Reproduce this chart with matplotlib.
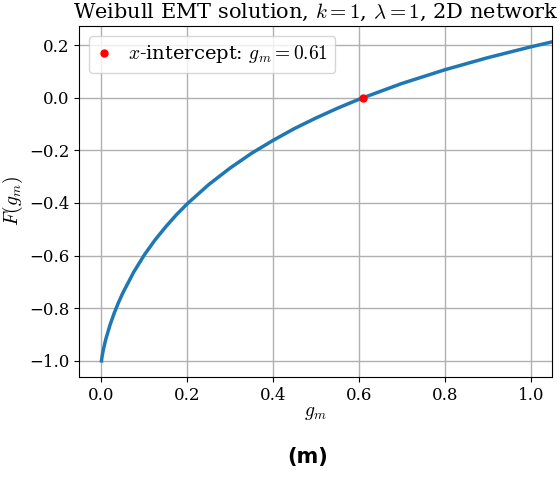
import numpy as np
import matplotlib
matplotlib.use("Agg")
import matplotlib.pyplot as plt

plt.rcParams['font.family'] = 'DejaVu Serif'
plt.rcParams['mathtext.fontset'] = 'cm'

# values
g_m = [0.0, 0.0005, 0.001, 0.0025, 0.005, 0.01, 0.02, 0.03, 0.04, 0.05, 0.075,
       0.1, 0.125, 0.15, 0.175, 0.2, 0.25, 0.3, 0.35, 0.4, 0.45, 0.5, 0.55,
       0.6, 0.61, 0.7, 0.8, 0.9, 1.0, 1.05]
F_g = [-1.0, -0.993, -0.987, -0.973, -0.9525, -0.918, -0.863, -0.817, -0.777, -0.741, -0.663,
       -0.597, -0.540, -0.490, -0.444, -0.403, -0.330, -0.267, -0.211, -0.162, -0.117, -0.077, -0.040,
       -0.006, 0.0, 0.054, 0.106, 0.152, 0.193, 0.212]
root_g = 0.61

fig = plt.figure(figsize=(5.6, 4.8), dpi=100)
ax = fig.add_axes([0.141, 0.215, 0.845, 0.731])

ax.plot(g_m, F_g, color='#1f77b4', lw=2.5)
ax.plot([root_g], [0.0], 'o', color='red', markersize=5,
        label=r'$x$-intercept: $g_m = %.2f$' % root_g)

ax.set_xlim(-0.0525, 1.05)
ax.set_xlabel(r'$g_m$', fontsize=14, labelpad=0)
ax.set_ylabel(r'$F(g_m)$', fontsize=14, labelpad=3)
ax.set_title(r'Weibull EMT solution, $k = 1$, $\lambda = 1$, 2D network', fontsize=15)
ax.tick_params(labelsize=12)
ax.grid(True, color='#b0b0b0', lw=1)
ax.legend(loc='upper left', fontsize=14, handlelength=0.8)

fig.text(0.55, 0.035, '(m)', fontsize=15, fontweight='bold', family='DejaVu Sans', ha='center')

fig.savefig('out.png', dpi=100)
